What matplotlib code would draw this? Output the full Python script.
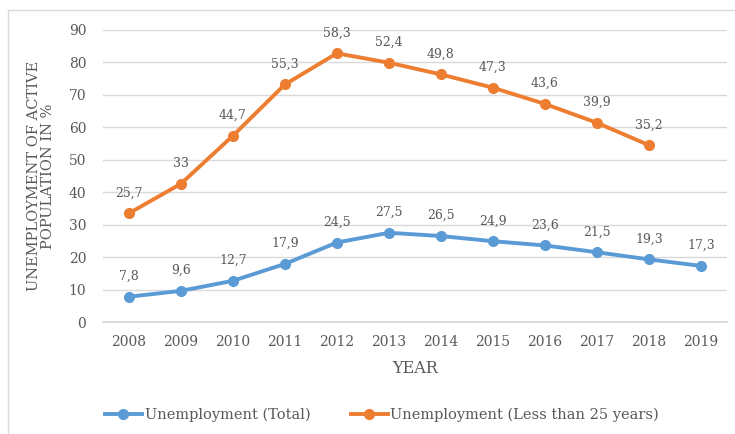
import numpy as np
import matplotlib.pyplot as plt
from matplotlib.patches import Rectangle

# data
years = ['2008', '2009', '2010', '2011', '2012', '2013', '2014', '2015', '2016', '2017', '2018', '2019']
total = [7.8, 9.6, 12.7, 17.9, 24.5, 27.5, 26.5, 24.9, 23.6, 21.5, 19.3, 17.3]
under25 = [25.7, 33, 44.7, 55.3, 58.3, 52.4, 49.8, 47.3, 43.6, 39.9, 35.2, None]

blue = '#5B9BD5'
orange = '#ED7D31'
text_col = '#595959'

plt.rcParams['font.family'] = ['DejaVu Serif']

fig = plt.figure(figsize=(7.35, 4.34), dpi=100)
ax = fig.add_axes([0.140, 0.258, 0.849, 0.673])

x = np.arange(len(years))
# stacked line chart: the second series sits on top of the first
stacked = [t + u if u is not None else np.nan for t, u in zip(total, under25)]

ax.plot(x, total, color=blue, lw=2.8, marker='o', ms=7, label='Unemployment (Total)', zorder=3)
ax.plot(x, stacked, color=orange, lw=2.8, marker='o', ms=7, label='Unemployment (Less than 25 years)', zorder=3)

def fmt(v):
    s = ('%.1f' % v).replace('.', ',')
    return s[:-2] if s.endswith(',0') else s

for i, v in enumerate(total):
    ax.annotate(fmt(v), (x[i], v), xytext=(0, 10), textcoords='offset points',
                ha='center', va='bottom', fontsize=9, color=text_col)
for i, v in enumerate(under25):
    if v is None:
        continue
    ax.annotate(fmt(v), (x[i], stacked[i]), xytext=(0, 10), textcoords='offset points',
                ha='center', va='bottom', fontsize=9, color=text_col)

ax.set_xlim(-0.5, len(years) - 0.5)
ax.set_ylim(0, 90)
ax.set_yticks(range(0, 91, 10))
ax.set_xticks(x)
ax.set_xticklabels(years)
ax.tick_params(axis='both', length=0, labelsize=10, colors=text_col)
ax.tick_params(axis='x', pad=9)
ax.tick_params(axis='y', pad=12)
ax.grid(axis='y', color='#d9d9d9', lw=1)
ax.set_axisbelow(True)
for s in ax.spines.values():
    s.set_visible(False)
ax.spines['bottom'].set_visible(True)
ax.spines['bottom'].set_color('#d9d9d9')
ax.spines['bottom'].set_linewidth(1.3)

ax.set_xlabel('YEAR', fontsize=11.5, color=text_col, labelpad=8)
ax.set_ylabel('UNEMPLOYMENT OF ACTIVE\nPOPULATION IN %', fontsize=10.5, color=text_col,
              labelpad=10, linespacing=1.0)

fig.legend(loc='center', bbox_to_anchor=(0.52, 0.045), ncol=2, frameon=False,
           fontsize=10.5, labelcolor=text_col, handlelength=2.5, handletextpad=0.2,
           columnspacing=2.8)

fig.patches.append(Rectangle((8 / 735, -0.1), 1.0, 1.0 - 10 / 434 + 0.1,
                             transform=fig.transFigure, fill=False, ec='#d9d9d9', lw=1))

fig.savefig('out.png', dpi=100)
